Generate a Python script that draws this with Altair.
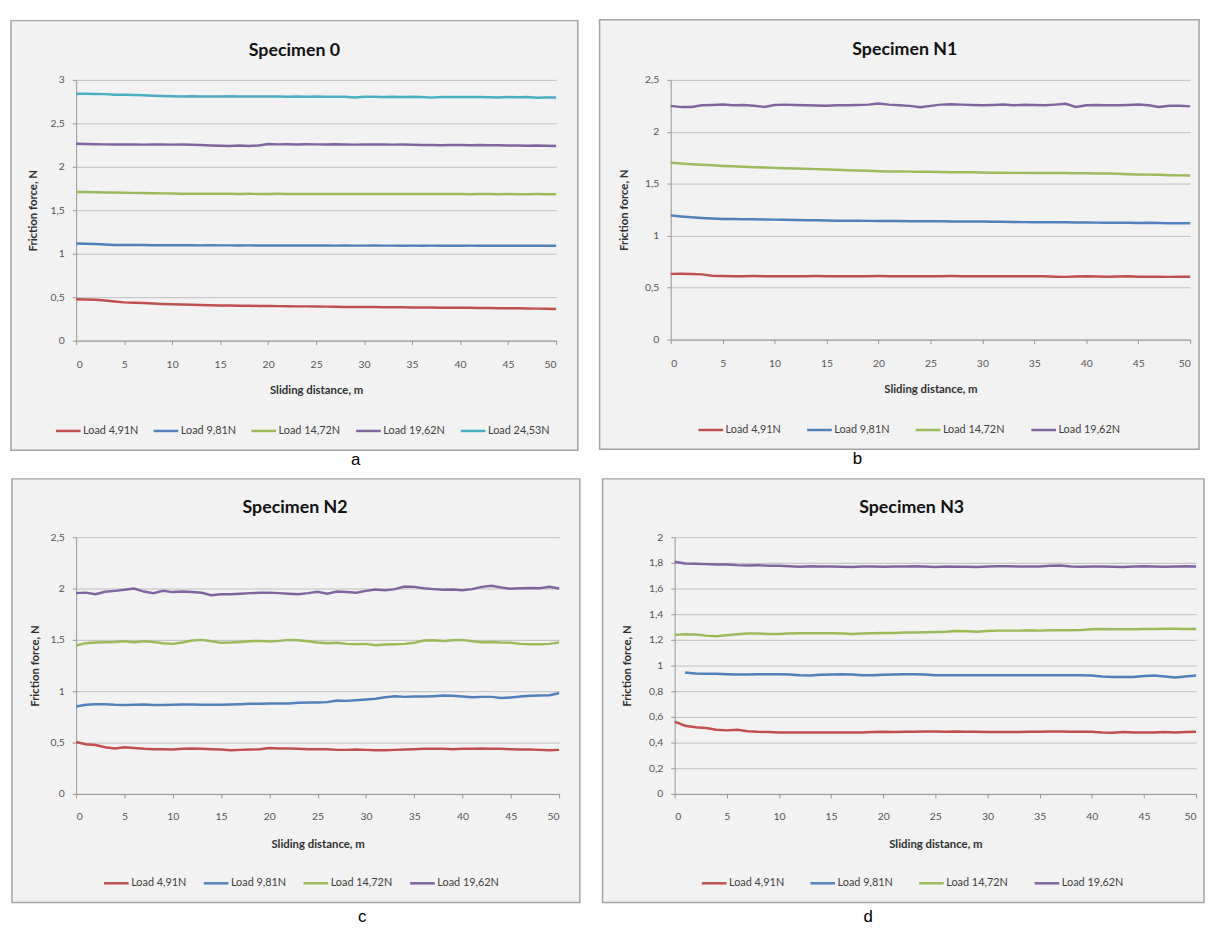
import altair as alt
import pandas as pd

X = list(range(51))
LABELS = ["Load 4,91N", "Load 9,81N", "Load 14,72N", "Load 19,62N", "Load 24,53N"]
COLORS = ["#C0504D", "#4F81BD", "#9BBB59", "#8064A2", "#4BACC6"]
X_TICKS = [0, 5, 10, 15, 20, 25, 30, 35, 40, 45, 50]
Y_TICKS_A = [0, 0.5, 1, 1.5, 2, 2.5, 3]
Y_TICKS_B = [0, 0.5, 1, 1.5, 2, 2.5]
Y_TICKS_C = [0, 0.5, 1, 1.5, 2, 2.5]
Y_TICKS_D = [0, 0.2, 0.4, 0.6, 0.8, 1, 1.2, 1.4, 1.6, 1.8, 2]

A_RED = [0.475, 0.472, 0.470, 0.462, 0.450, 0.440, 0.436, 0.432, 0.426, 0.421,
         0.418, 0.416, 0.413, 0.410, 0.408, 0.405, 0.404, 0.402, 0.401, 0.399,
         0.398, 0.397, 0.396, 0.394, 0.394, 0.392, 0.391, 0.390, 0.388, 0.387,
         0.386, 0.386, 0.385, 0.384, 0.383, 0.382, 0.382, 0.381, 0.379, 0.378,
         0.378, 0.377, 0.375, 0.376, 0.373, 0.372, 0.372, 0.370, 0.368, 0.366, 0.364]
A_BLUE = [1.117, 1.115, 1.112, 1.106, 1.101, 1.100, 1.099, 1.099, 1.098, 1.098,
          1.097, 1.098, 1.097, 1.096, 1.097, 1.096, 1.096, 1.095, 1.096, 1.095,
          1.095, 1.094, 1.095, 1.094, 1.094, 1.095, 1.094, 1.093, 1.094, 1.093,
          1.093, 1.094, 1.093, 1.093, 1.092, 1.093, 1.092, 1.093, 1.092, 1.092,
          1.092, 1.093, 1.092, 1.091, 1.092, 1.092, 1.091, 1.092, 1.091, 1.091, 1.092]
A_GREEN = [1.710, 1.709, 1.707, 1.705, 1.703, 1.701, 1.700, 1.698, 1.696, 1.694,
           1.692, 1.691, 1.690, 1.689, 1.690, 1.689, 1.689, 1.688, 1.689, 1.688,
           1.688, 1.689, 1.688, 1.687, 1.688, 1.688, 1.687, 1.688, 1.687, 1.687,
           1.688, 1.687, 1.686, 1.687, 1.687, 1.686, 1.687, 1.686, 1.686, 1.687,
           1.686, 1.685, 1.686, 1.686, 1.685, 1.686, 1.685, 1.685, 1.686, 1.685, 1.685]
A_PURPLE = [2.266, 2.262, 2.260, 2.258, 2.257, 2.256, 2.258, 2.255, 2.256, 2.257,
            2.255, 2.256, 2.254, 2.250, 2.245, 2.242, 2.240, 2.244, 2.240, 2.246,
            2.262, 2.258, 2.260, 2.257, 2.259, 2.258, 2.256, 2.259, 2.257, 2.255,
            2.258, 2.256, 2.257, 2.255, 2.257, 2.254, 2.250, 2.252, 2.249, 2.251,
            2.250, 2.248, 2.251, 2.247, 2.249, 2.246, 2.244, 2.242, 2.245, 2.241, 2.238]
A_CYAN = [2.840, 2.840, 2.838, 2.836, 2.830, 2.828, 2.826, 2.822, 2.818, 2.815,
          2.812, 2.810, 2.811, 2.808, 2.810, 2.809, 2.811, 2.808, 2.810, 2.809,
          2.810, 2.808, 2.807, 2.809, 2.806, 2.808, 2.807, 2.806, 2.805, 2.798,
          2.806, 2.805, 2.804, 2.806, 2.803, 2.805, 2.802, 2.796, 2.802, 2.804,
          2.803, 2.802, 2.804, 2.801, 2.797, 2.802, 2.800, 2.802, 2.794, 2.797, 2.798]

B_RED = [0.633, 0.634, 0.632, 0.628, 0.615, 0.612, 0.611, 0.611, 0.612, 0.611,
         0.611, 0.610, 0.611, 0.611, 0.612, 0.611, 0.611, 0.610, 0.611, 0.611,
         0.612, 0.611, 0.611, 0.611, 0.610, 0.611, 0.611, 0.612, 0.611, 0.611,
         0.611, 0.610, 0.611, 0.611, 0.611, 0.610, 0.609, 0.606, 0.604, 0.608,
         0.610, 0.607, 0.606, 0.608, 0.609, 0.606, 0.605, 0.605, 0.604, 0.605, 0.605]
B_BLUE = [1.196, 1.186, 1.177, 1.171, 1.166, 1.161, 1.160, 1.159, 1.158, 1.156,
          1.155, 1.153, 1.152, 1.150, 1.148, 1.146, 1.145, 1.145, 1.144, 1.143,
          1.142, 1.141, 1.141, 1.140, 1.140, 1.139, 1.139, 1.138, 1.137, 1.137,
          1.136, 1.135, 1.134, 1.132, 1.131, 1.130, 1.130, 1.129, 1.129, 1.128,
          1.127, 1.126, 1.125, 1.125, 1.124, 1.123, 1.125, 1.122, 1.120, 1.121, 1.120]
B_GREEN = [1.703, 1.695, 1.689, 1.684, 1.678, 1.672, 1.668, 1.664, 1.660, 1.656,
           1.653, 1.650, 1.648, 1.645, 1.641, 1.637, 1.634, 1.631, 1.628, 1.625,
           1.621, 1.619, 1.618, 1.617, 1.616, 1.615, 1.614, 1.612, 1.611, 1.610,
           1.608, 1.607, 1.606, 1.605, 1.605, 1.604, 1.604, 1.603, 1.603, 1.602,
           1.601, 1.599, 1.598, 1.596, 1.592, 1.589, 1.588, 1.586, 1.583, 1.581, 1.579]
B_PURPLE = [2.250, 2.238, 2.240, 2.255, 2.258, 2.262, 2.256, 2.258, 2.252, 2.240,
            2.258, 2.262, 2.258, 2.256, 2.254, 2.252, 2.255, 2.256, 2.258, 2.262,
            2.272, 2.262, 2.255, 2.250, 2.236, 2.250, 2.262, 2.265, 2.262, 2.258,
            2.256, 2.258, 2.262, 2.256, 2.260, 2.258, 2.256, 2.262, 2.270, 2.240,
            2.255, 2.258, 2.256, 2.255, 2.258, 2.262, 2.256, 2.240, 2.250, 2.252, 2.245]

C_RED = [0.506, 0.484, 0.477, 0.455, 0.442, 0.455, 0.448, 0.439, 0.435, 0.435,
         0.432, 0.439, 0.442, 0.439, 0.435, 0.432, 0.426, 0.429, 0.432, 0.435,
         0.448, 0.442, 0.442, 0.439, 0.435, 0.435, 0.435, 0.429, 0.429, 0.432,
         0.429, 0.426, 0.426, 0.429, 0.432, 0.435, 0.439, 0.439, 0.439, 0.435,
         0.439, 0.439, 0.442, 0.439, 0.439, 0.435, 0.432, 0.432, 0.429, 0.426, 0.429]
C_BLUE = [0.852, 0.868, 0.874, 0.874, 0.868, 0.865, 0.868, 0.871, 0.865, 0.865,
          0.868, 0.871, 0.871, 0.868, 0.868, 0.868, 0.871, 0.874, 0.877, 0.877,
          0.881, 0.881, 0.881, 0.887, 0.890, 0.890, 0.894, 0.910, 0.906, 0.913,
          0.919, 0.926, 0.942, 0.952, 0.945, 0.948, 0.948, 0.952, 0.958, 0.955,
          0.948, 0.942, 0.945, 0.945, 0.935, 0.939, 0.948, 0.955, 0.958, 0.961, 0.981]
C_GREEN = [1.445, 1.468, 1.474, 1.477, 1.480, 1.487, 1.477, 1.487, 1.480, 1.468,
           1.461, 1.474, 1.494, 1.500, 1.487, 1.471, 1.474, 1.480, 1.487, 1.490,
           1.484, 1.490, 1.500, 1.497, 1.487, 1.474, 1.468, 1.471, 1.461, 1.458,
           1.461, 1.448, 1.455, 1.458, 1.461, 1.471, 1.494, 1.497, 1.490, 1.497,
           1.500, 1.487, 1.477, 1.480, 1.474, 1.471, 1.461, 1.458, 1.458, 1.461, 1.474]
C_PURPLE = [1.955, 1.960, 1.945, 1.968, 1.977, 1.987, 2.000, 1.970, 1.955, 1.977,
            1.965, 1.970, 1.965, 1.958, 1.935, 1.945, 1.945, 1.950, 1.955, 1.958,
            1.960, 1.955, 1.950, 1.945, 1.955, 1.968, 1.950, 1.970, 1.965, 1.958,
            1.977, 1.990, 1.984, 1.994, 2.020, 2.016, 2.003, 1.994, 1.987, 1.990,
            1.984, 1.994, 2.016, 2.026, 2.010, 1.997, 2.003, 2.006, 2.003, 2.016, 2.000]

D_RED = [0.564, 0.531, 0.520, 0.513, 0.500, 0.495, 0.500, 0.489, 0.484, 0.482,
         0.479, 0.479, 0.479, 0.479, 0.479, 0.479, 0.479, 0.479, 0.479, 0.482,
         0.484, 0.482, 0.484, 0.484, 0.487, 0.487, 0.484, 0.487, 0.484, 0.484,
         0.482, 0.482, 0.482, 0.482, 0.484, 0.484, 0.487, 0.487, 0.484, 0.484,
         0.484, 0.479, 0.477, 0.482, 0.479, 0.479, 0.479, 0.482, 0.479, 0.482, 0.484]
D_BLUE = [None, 0.946, 0.938, 0.936, 0.936, 0.933, 0.931, 0.931, 0.933, 0.933,
          0.933, 0.931, 0.925, 0.923, 0.928, 0.931, 0.933, 0.931, 0.925, 0.925,
          0.928, 0.931, 0.933, 0.933, 0.931, 0.925, 0.925, 0.925, 0.925, 0.925,
          0.925, 0.925, 0.925, 0.925, 0.925, 0.925, 0.925, 0.925, 0.925, 0.925,
          0.923, 0.915, 0.910, 0.910, 0.910, 0.918, 0.923, 0.915, 0.907, 0.915, 0.923]
D_GREEN = [1.239, 1.244, 1.241, 1.233, 1.228, 1.236, 1.244, 1.249, 1.249, 1.246,
           1.246, 1.249, 1.251, 1.251, 1.251, 1.251, 1.249, 1.246, 1.249, 1.251,
           1.254, 1.254, 1.257, 1.257, 1.259, 1.262, 1.264, 1.269, 1.267, 1.264,
           1.269, 1.272, 1.272, 1.272, 1.275, 1.272, 1.275, 1.275, 1.275, 1.277,
           1.282, 1.285, 1.282, 1.282, 1.282, 1.285, 1.285, 1.287, 1.287, 1.285, 1.285]
D_PURPLE = [1.808, 1.795, 1.792, 1.790, 1.787, 1.787, 1.782, 1.779, 1.782, 1.777,
            1.777, 1.774, 1.769, 1.774, 1.772, 1.772, 1.769, 1.767, 1.772, 1.772,
            1.769, 1.772, 1.772, 1.774, 1.772, 1.767, 1.772, 1.769, 1.769, 1.767,
            1.772, 1.774, 1.774, 1.772, 1.772, 1.772, 1.777, 1.779, 1.772, 1.769,
            1.772, 1.772, 1.769, 1.767, 1.772, 1.774, 1.772, 1.769, 1.772, 1.774, 1.772]

FONT = "Lato"


def panel(title, letter, series, ymax, yticks, g):
    rows = []
    for label, vals in zip(LABELS, series):
        for x, v in zip(X, vals):
            if v is not None:
                rows.append({"x": x, "y": v, "s": label})
    df = pd.DataFrame(rows)
    labels = LABELS[:len(series)]
    colors = COLORS[:len(series)]
    w, h = g["w"], g["h"]
    one = pd.DataFrame({"k": [0]})

    layers = []
    if "ext" in g:
        # transparent spacer so that the two rows keep the reference's left offsets
        layers.append(alt.Chart(one).mark_rect(fill="#ffffff", fillOpacity=0).encode(
            x=alt.value(g["ext"]), x2=alt.value(g["ext"] + 2),
            y=alt.value(0), y2=alt.value(2)))

    bg = alt.Chart(one).mark_rect(
        fill="#000000", fillOpacity=0.05, stroke="#a3a3a3", strokeWidth=1.5, strokeOpacity=1
    ).encode(
        x=alt.value(g["rect"][0]), x2=alt.value(g["rect"][2]),
        y=alt.value(g["rect"][1]), y2=alt.value(g["rect"][3]),
    )
    layers.append(bg)

    lines = alt.Chart(df).mark_line(strokeWidth=2.5).encode(
        x=alt.X("x:Q", scale=alt.Scale(domain=[0, 50], nice=False),
                axis=alt.Axis(values=X_TICKS, format="d", title="Sliding distance, m",
                              grid=False, tickSize=4, labelPadding=g["xlp"],
                              titleY=51, titleBaseline="middle")),
        y=alt.Y("y:Q", scale=alt.Scale(domain=[0, ymax], nice=False),
                axis=alt.Axis(values=yticks, format=".1~f",
                              labelExpr="replace(datum.label, '.', ',')",
                              title="Friction force, N", grid=True, tickSize=4,
                              labelPadding=8, titleX=g["ytx"], titleY=h / 2,
                              titleAngle=270, titleBaseline="middle", titleAlign="center")),
        color=alt.Color("s:N", scale=alt.Scale(domain=labels, range=colors),
                        legend=alt.Legend(title=None, orient="none", legendX=g["lx"],
                                          legendY=g["ly"], direction="horizontal",
                                          columns=len(labels), symbolType="stroke",
                                          symbolSize=625, symbolStrokeWidth=2.5,
                                          labelFontSize=11, labelFont=FONT,
                                          labelColor="#404040", labelOffset=1,
                                          columnPadding=g["cp"])),
    )
    layers.append(lines)

    ttl = alt.Chart(one).mark_text(
        text=title, font=FONT, fontSize=18, fontWeight="bold", color="#111111",
        align="center", baseline="alphabetic"
    ).encode(x=alt.value(g["tt"][0]), y=alt.value(g["tt"][1]))
    layers.append(ttl)

    let = alt.Chart(one).mark_text(
        text=letter, font="Liberation Sans", fontSize=17, color="#000000",
        align="center", baseline="alphabetic"
    ).encode(x=alt.value(g["let"][0]), y=alt.value(g["let"][1]))
    layers.append(let)

    return alt.layer(*layers).properties(width=w, height=h)


GA = dict(w=486, h=264, rect=(-66, -60, 508, 375), tt=(221, -24.5), let=(283, 390),
          ytx=-43, xlp=15.5, lx=-22, ly=341.5, cp=10, ext=-69)
GB = dict(w=526, h=263, rect=(-72, -61, 535, 374), tt=(237, -25), let=(189, 389),
          ytx=-46.5, xlp=15.5, lx=26.6, ly=340.5, cp=21)
GC = dict(w=489, h=260, rect=(-65, -59, 510, 370), tt=(221.6, -24.3), let=(289.6, 390),
          ytx=-41.4, xlp=13.5, lx=26.7, ly=336.5, cp=12)
GD = dict(w=528, h=260, rect=(-73, -59, 536, 370), tt=(240, -24), let=(196, 390),
          ytx=-48, xlp=13.5, lx=26, ly=336.5, cp=21)

pa = panel("Specimen 0", "a", [A_RED, A_BLUE, A_GREEN, A_PURPLE, A_CYAN], 3, Y_TICKS_A, GA)
pb = panel("Specimen N1", "b", [B_RED, B_BLUE, B_GREEN, B_PURPLE], 2.5, Y_TICKS_B, GB)
pc = panel("Specimen N2", "c", [C_RED, C_BLUE, C_GREEN, C_PURPLE], 2.5, Y_TICKS_C, GC)
pd_ = panel("Specimen N3", "d", [D_RED, D_BLUE, D_GREEN, D_PURPLE], 2, Y_TICKS_D, GD)

row1 = alt.hconcat(pa, pb, spacing=20).resolve_scale(color="independent", x="independent", y="independent")
row2 = alt.hconcat(pc, pd_, spacing=21).resolve_scale(color="independent", x="independent", y="independent")

chart = alt.vconcat(row1, row2, spacing=10).resolve_scale(
    color="independent", x="independent", y="independent"
).properties(
    padding={"left": 0, "top": 5, "right": 0, "bottom": 0}
).configure_view(strokeWidth=0).configure_axis(
    labelFont=FONT, labelFontSize=10.5, labelColor="#595959",
    titleFont=FONT, titleFontSize=11.5, titleFontWeight="bold", titleColor="#333333",
    domainColor="#a0a0a0", tickColor="#a0a0a0", gridColor="#c8c8c8",
    domainWidth=1, gridWidth=1
)

chart.save("out.html", embed_options={"renderer": "svg", "actions": False})
